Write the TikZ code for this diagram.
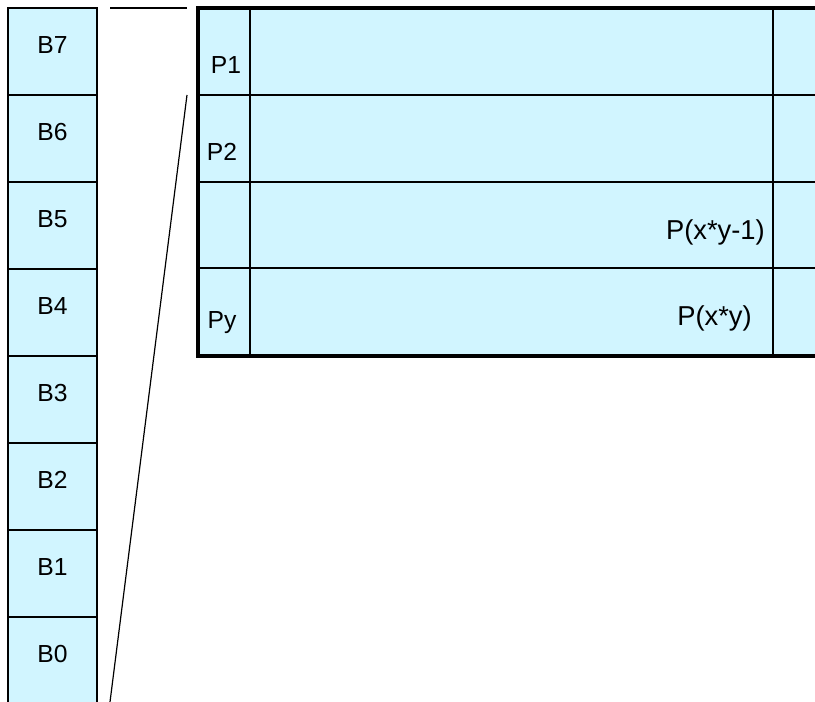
\documentclass[tikz,border=0pt]{standalone}
\usepackage{fontspec}
\setmainfont{Liberation Sans}
\usetikzlibrary{positioning}
\definecolor{cellblue}{RGB}{209,245,255}

\begin{document}
\begin{tikzpicture}[
        x=0.75pt, y=-0.75pt,
        every node/.style={font=\fontsize{18.5}{20}\selectfont, inner sep=0pt},
        big/.style={font=\fontsize{20.5}{22}\selectfont},
        bcell/.style={draw, fill=cellblue, line width=1.7pt, minimum width=66.75pt, minimum height=65.25pt},
        grid/.style={line width=1.4pt},
        frame/.style={line width=2.7pt},
        zoomline/.style={line width=0.9pt}
    ]
    \useasboundingbox (0,0) rectangle (815,702);

    % Byte column
    \foreach \i [evaluate=\i as \yc using 51.5+87*(7-\i)] in {7,...,0} {
        \node[bcell] (b\i) at (52.5,\yc) {};
        \node (lb\i) at ([yshift=5pt]b\i.center) {B\i};
    }

    % Pixel table
    \fill[cellblue] (198,8) rectangle (840,356);
    \foreach \y in {95,182,268}
        \draw[grid] (198,\y) -- (840,\y);
    \draw[grid] (250,8) -- (250,356);
    \draw[grid] (773,8) -- (773,356);
    \draw[frame] (198,8) rectangle (840,356);

    \node (p1) at (226,65) {P1};
    \node (p2) at (222,152) {P2};
    \node (py) at (222,323) {Py};
    \node[big, anchor=east] (pxy1) at (765,232) {P(x*y-1)};
    \node[big, anchor=east] (pxy) at (752,318) {P(x*y)};

    % Zoom lines
    \coordinate (zt1) at (110,8);
    \coordinate (zt2) at (187,8);
    \coordinate (zb1) at (187,95);
    \coordinate (zb2) at (110,702);
    \draw[zoomline] (zt1) -- (zt2);
    \draw[zoomline] (zb1) -- (zb2);

\end{tikzpicture}
\end{document}
